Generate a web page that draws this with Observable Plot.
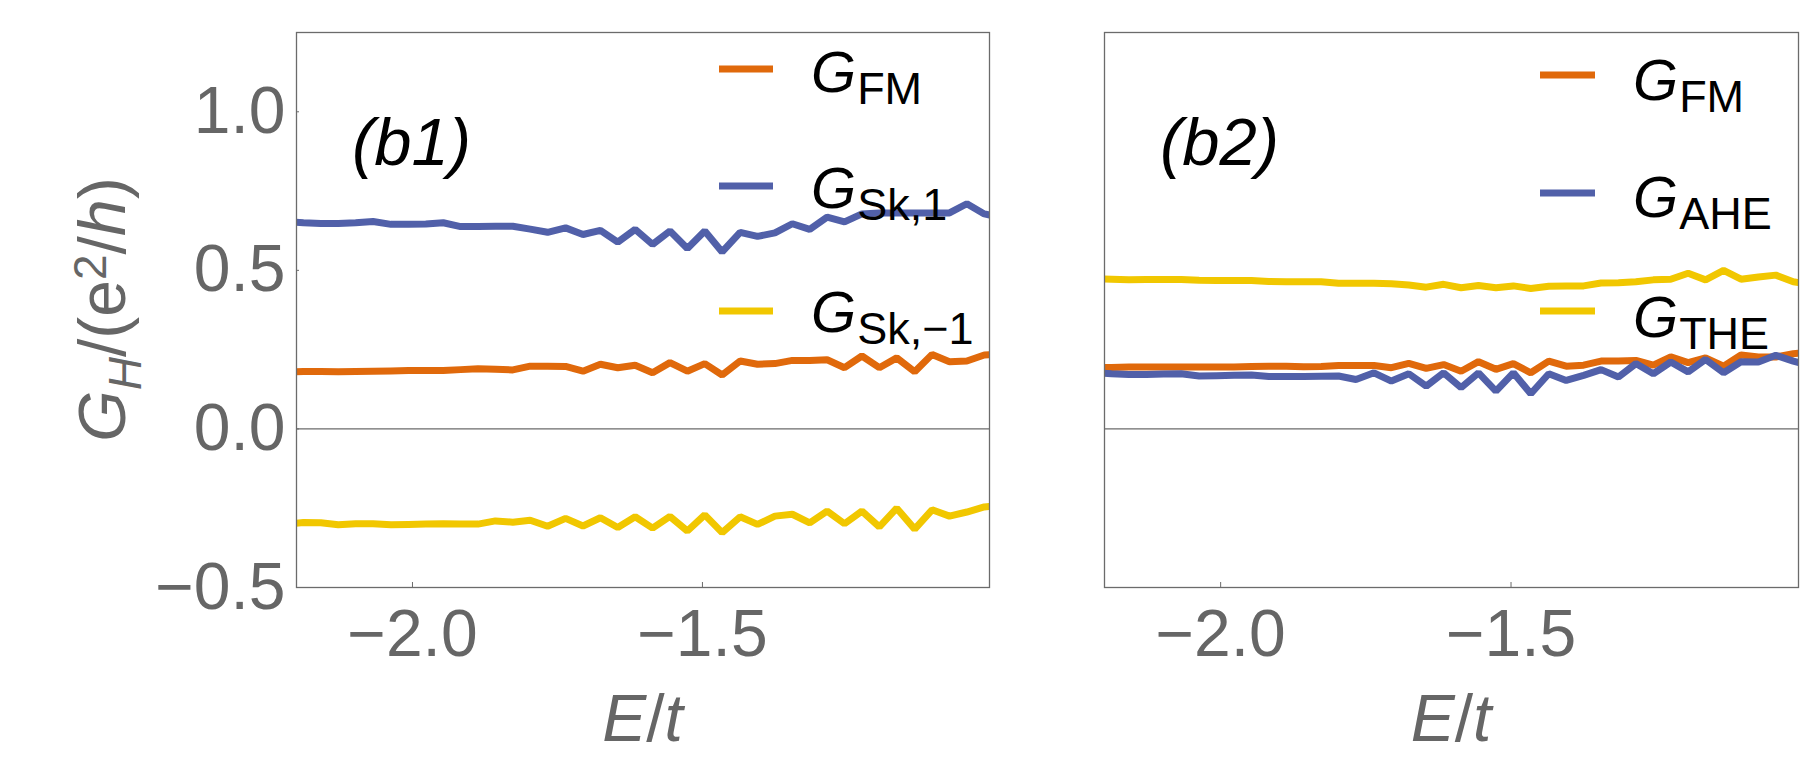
<!DOCTYPE html>
<html>
<head>
<meta charset="utf-8">
<script src="https://cdn.jsdelivr.net/npm/d3@7"></script>
<script src="https://cdn.jsdelivr.net/npm/@observablehq/plot@0.6"></script>
<style>
  body { margin: 0; background: #fff; }
  #wrap { display: flex; width: 1815px; height: 772px; background: #fff; }
  #wrap svg { display: block; flex: none; }
</style>
</head>
<body>
<div id="wrap"></div>
<script>
// ---------- data ----------
const energies = [
  -2.218, -2.188, -2.158, -2.128, -2.098, -2.068, -2.037, -2.007, -1.977, -1.947,
  -1.917, -1.887, -1.857, -1.827, -1.797, -1.767, -1.736, -1.706, -1.676, -1.646,
  -1.616, -1.586, -1.556, -1.526, -1.496, -1.466, -1.435, -1.405, -1.375, -1.345,
  -1.315, -1.285, -1.255, -1.225, -1.195, -1.165, -1.134, -1.104, -1.074, -1.044,
  -1.014, -0.984
];

// panel (b1)
const gFM_b1 = [
  0.180, 0.181, 0.181, 0.180, 0.181, 0.182, 0.183, 0.184, 0.184, 0.184,
  0.187, 0.190, 0.188, 0.186, 0.198, 0.198, 0.197, 0.182, 0.204, 0.193,
  0.201, 0.177, 0.209, 0.182, 0.206, 0.170, 0.214, 0.204, 0.206, 0.216,
  0.216, 0.218, 0.193, 0.230, 0.193, 0.224, 0.180, 0.235, 0.212, 0.214,
  0.233, 0.237
];
const gSk1_b1 = [
  0.654, 0.650, 0.648, 0.648, 0.650, 0.654, 0.645, 0.645, 0.646, 0.650,
  0.638, 0.638, 0.639, 0.639, 0.630, 0.620, 0.634, 0.613, 0.626, 0.589,
  0.629, 0.582, 0.624, 0.569, 0.624, 0.558, 0.620, 0.607, 0.618, 0.647,
  0.629, 0.668, 0.653, 0.678, 0.681, 0.681, 0.681, 0.681, 0.681, 0.710,
  0.678, 0.666
];
const gSkm1_b1 = [
  -0.301, -0.295, -0.296, -0.302, -0.299, -0.299, -0.302, -0.301, -0.300, -0.299,
  -0.300, -0.300, -0.290, -0.294, -0.288, -0.307, -0.282, -0.306, -0.280, -0.311,
  -0.277, -0.313, -0.276, -0.322, -0.271, -0.327, -0.277, -0.301, -0.275, -0.269,
  -0.296, -0.259, -0.299, -0.259, -0.309, -0.250, -0.316, -0.255, -0.275, -0.262,
  -0.246, -0.240
];

// panel (b2)
const gFM_b2 = [
  0.193, 0.194, 0.195, 0.195, 0.195, 0.195, 0.195, 0.195, 0.195, 0.197,
  0.198, 0.198, 0.196, 0.197, 0.200, 0.200, 0.200, 0.193, 0.207, 0.191,
  0.203, 0.182, 0.212, 0.188, 0.206, 0.177, 0.214, 0.198, 0.201, 0.214,
  0.214, 0.216, 0.201, 0.227, 0.209, 0.224, 0.198, 0.233, 0.227, 0.227,
  0.237, 0.243
];
const gAHE_b2 = [
  0.177, 0.174, 0.172, 0.172, 0.173, 0.174, 0.167, 0.168, 0.169, 0.170,
  0.165, 0.165, 0.165, 0.166, 0.167, 0.156, 0.177, 0.151, 0.174, 0.135,
  0.177, 0.130, 0.177, 0.119, 0.177, 0.111, 0.174, 0.153, 0.169, 0.187,
  0.164, 0.206, 0.174, 0.211, 0.180, 0.219, 0.177, 0.212, 0.211, 0.232,
  0.214, 0.198
];
const gTHE_b2 = [
  0.474, 0.472, 0.470, 0.471, 0.471, 0.471, 0.469, 0.468, 0.468, 0.468,
  0.465, 0.464, 0.464, 0.464, 0.459, 0.459, 0.459, 0.458, 0.454, 0.447,
  0.456, 0.445, 0.452, 0.445, 0.451, 0.443, 0.450, 0.451, 0.451, 0.460,
  0.461, 0.464, 0.470, 0.472, 0.491, 0.470, 0.500, 0.472, 0.479, 0.485,
  0.464, 0.456
];

const xTicks = [-2.0, -1.5];
const yTicks = [-0.5, 0.0, 0.5, 1.0];
const xDomain = [-2.2, -1.005];
const yDomain = [-0.5, 1.25];

const panelTags = ["(b1)", "(b2)"];
const legendSubs_b1 = ["FM", "Sk,1", "Sk,\u22121"];
const legendSubs_b2 = ["FM", "AHE", "THE"];
const xLabel = ["E", "/", "t"];

// ---------- styling ----------
const FONT = "'Liberation Sans', Arial, Helvetica, sans-serif";
const ORANGE = "#E0690B", BLUE = "#5160A9", YELLOW = "#F1C700";
const GRAY = "#666666", FRAME = "#6b6b6b";
const fmt = d3.format(".1f");

function makePanel(cfg) {
  const {width, marginLeft, marginRight, series, showY, tag, legend} = cfg;
  const marginTop = 32, marginBottom = 185, height = 772;
  const rows = series.flatMap(s => energies.map((E, i) => ({E, G: s.values[i], key: s.key})));

  const marks = [
    Plot.ruleY([0], {stroke: FRAME, strokeWidth: 1.3}),
    Plot.line(rows, {
      x: "E", y: "G", z: "key", stroke: "key",
      strokeWidth: 7, strokeLinejoin: "miter", strokeLinecap: "butt", clip: true
    }),
    Plot.frame({stroke: FRAME, strokeWidth: 1.3}),
    Plot.axisX(xTicks, {tickSize: -5, tickPadding: 27, tickFormat: fmt, label: null, stroke: FRAME})
  ];
  if (showY) {
    marks.push(Plot.axisY(yTicks, {tickSize: -3, tickPadding: 14, tickFormat: fmt, label: null, stroke: FRAME}));
  }

  const svgNode = Plot.plot({
    width, height, marginLeft, marginRight, marginTop, marginBottom,
    style: {fontFamily: FONT, fontSize: "66px", color: GRAY, background: "#fff", overflow: "visible"},
    x: {domain: xDomain, axis: null},
    y: {domain: yDomain, axis: null},
    color: {domain: series.map(s => s.key), range: series.map(s => s.color)},
    marks
  });

  const svg = d3.select(svgNode);
  const L = marginLeft, R = width - marginRight, T = marginTop, B = height - marginBottom;

  // panel tag
  svg.append("text")
    .attr("x", L + 56).attr("y", T + 133).attr("text-anchor", "start")
    .attr("font-family", FONT).attr("font-size", 67).attr("font-style", "italic")
    .attr("fill", "#000").text(tag);

  // legend
  series.forEach((s, i) => {
    svg.append("line")
      .attr("x1", R + legend.lineX[0]).attr("x2", R + legend.lineX[1])
      .attr("y1", legend.lineY[i]).attr("y2", legend.lineY[i])
      .attr("stroke", s.color).attr("stroke-width", 7);
    const t = svg.append("text")
      .attr("x", R + legend.textX).attr("y", legend.base[i]).attr("text-anchor", "start")
      .attr("font-family", FONT).attr("font-size", 58).attr("fill", "#000");
    t.append("tspan").attr("font-style", "italic").text("G");
    t.append("tspan").attr("font-size", 45).attr("dx", 1).attr("dy", 12).text(s.sub);
  });

  // x label
  const xl = svg.append("text")
    .attr("x", (L + R) / 2).attr("y", 741).attr("text-anchor", "middle")
    .attr("font-family", FONT).attr("font-size", 66).attr("fill", GRAY);
  xl.append("tspan").attr("font-style", "italic").text(xLabel[0]);
  xl.append("tspan").text(xLabel[1]);
  xl.append("tspan").attr("font-style", "italic").text(xLabel[2]);

  // y label
  if (showY) {
    const yl = svg.append("text")
      .attr("transform", `translate(125,${(T + B) / 2}) rotate(-90)`)
      .attr("text-anchor", "middle")
      .attr("font-family", FONT).attr("font-size", 66).attr("fill", GRAY);
    yl.append("tspan").attr("font-style", "italic").text("G");
    yl.append("tspan").attr("font-style", "italic").attr("font-size", 46).attr("dy", 16).text("H");
    yl.append("tspan").attr("dy", -16).text("/(e");
    yl.append("tspan").attr("font-size", 46).attr("dy", -19).text("2");
    yl.append("tspan").attr("dy", 19).text("/");
    yl.append("tspan").attr("font-style", "italic").text("h");
    yl.append("tspan").text(")");
  }
  return svgNode;
}

const wrap = document.getElementById("wrap");
wrap.appendChild(makePanel({
  width: 1000, marginLeft: 296, marginRight: 11, showY: true, tag: panelTags[0],
  series: [
    {key: "FM1", values: gFM_b1, color: ORANGE, sub: legendSubs_b1[0]},
    {key: "Sk1", values: gSk1_b1, color: BLUE, sub: legendSubs_b1[1]},
    {key: "Skm1", values: gSkm1_b1, color: YELLOW, sub: legendSubs_b1[2]}
  ],
  legend: {lineX: [-270, -216], lineY: [69, 186, 311], textX: -178, base: [92, 208, 332]}
}));
wrap.appendChild(makePanel({
  width: 815, marginLeft: 104, marginRight: 17, showY: false, tag: panelTags[1],
  series: [
    {key: "FM2", values: gFM_b2, color: ORANGE, sub: legendSubs_b2[0]},
    {key: "AHE", values: gAHE_b2, color: BLUE, sub: legendSubs_b2[1]},
    {key: "THE", values: gTHE_b2, color: YELLOW, sub: legendSubs_b2[2]}
  ],
  legend: {lineX: [-258, -203], lineY: [75, 193, 311], textX: -165, base: [100, 217, 337]}
}));
</script>
</body>
</html>
